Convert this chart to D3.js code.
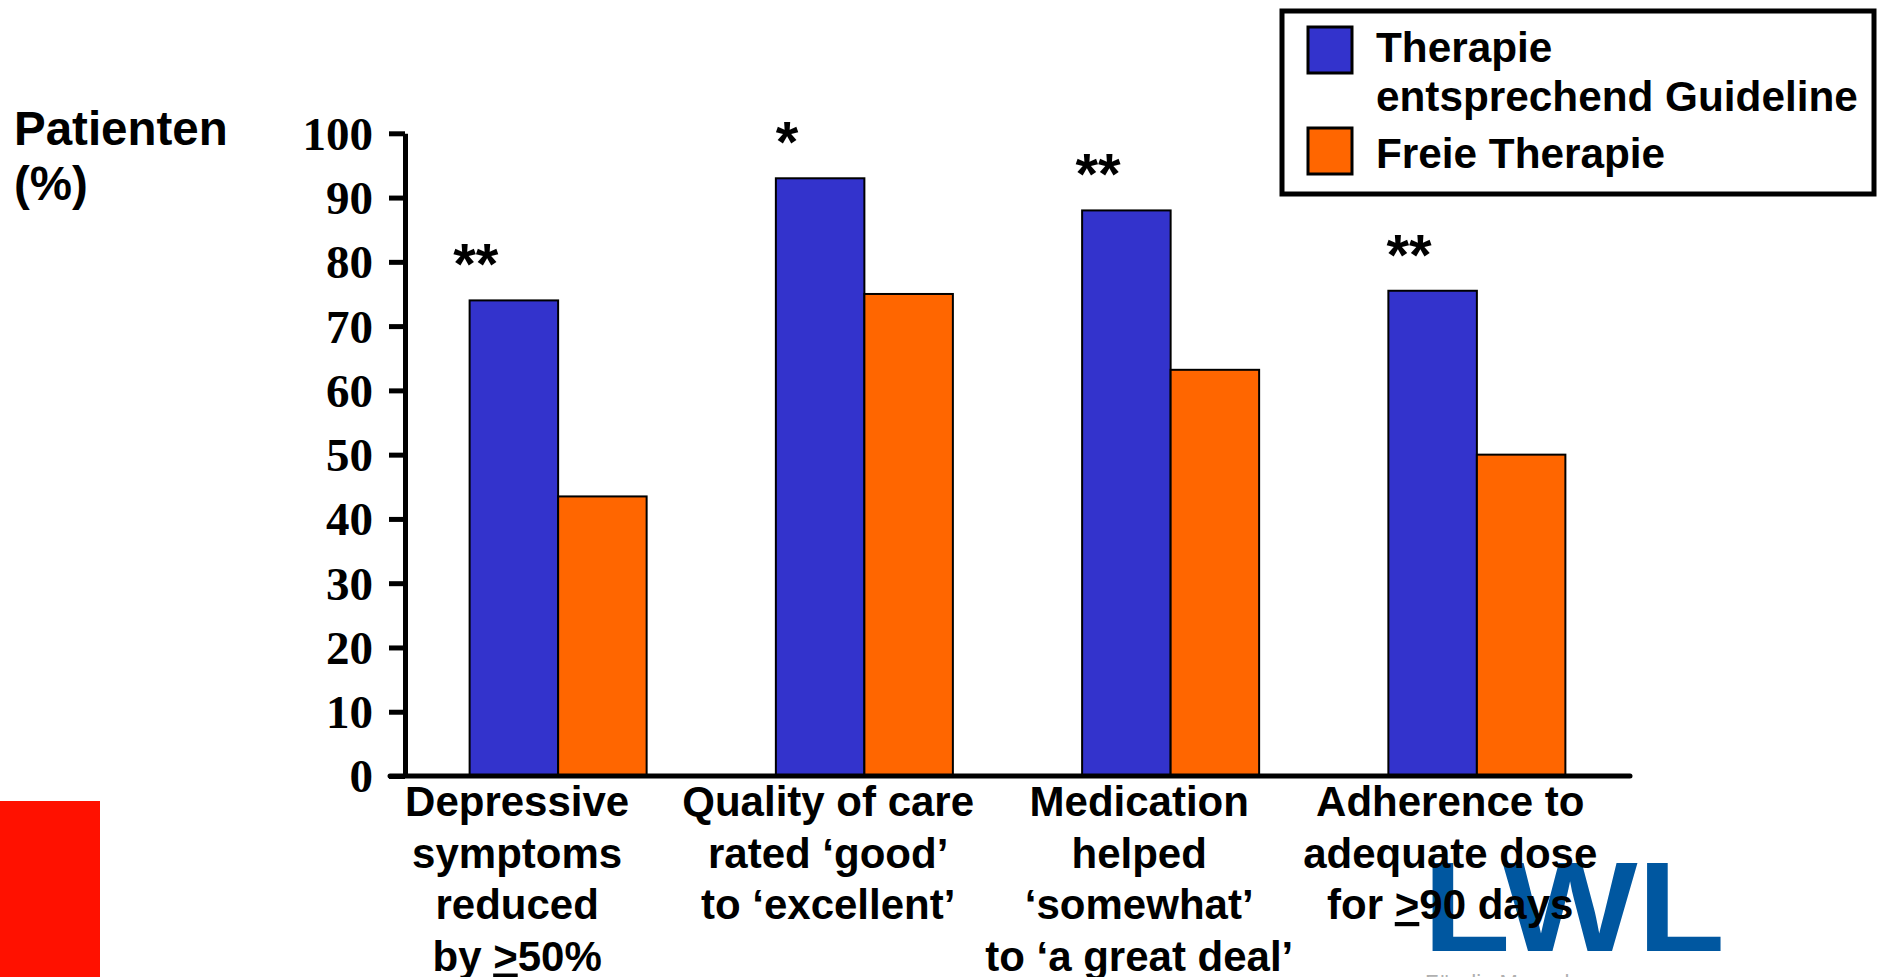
<!DOCTYPE html>
<html>
<head>
<meta charset="utf-8">
<script src="https://cdn.jsdelivr.net/npm/d3@7"></script>
<style>
  html, body { margin: 0; padding: 0; background: #fff; overflow: hidden; }
  svg { display: block; }
  .sans { font-family: "Liberation Sans", Arial, Helvetica, sans-serif; font-weight: bold; }
  .serif { font-family: "Liberation Serif", "Times New Roman", serif; font-weight: bold; }
</style>
</head>
<body>
<svg id="chart" width="1880" height="977"></svg>
<script>
// Outcome categories (each label is split into its display lines)
const categories = ["depressive", "quality", "medication", "adherence"];
const categoryLines = [
  ["Depressive", "symptoms", "reduced", "by >50%"],
  ["Quality of care", "rated ‘good’", "to ‘excellent’"],
  ["Medication", "helped", "‘somewhat’", "to ‘a great deal’"],
  ["Adherence to", "adequate dose", "for >90 days"]
];

// Share of patients (%) per group
const guidelineValues = [74, 93, 88, 75.5];
const freeValues = [43.5, 75, 63.2, 50];

// Significance markers above each group
const significance = ["**", "*", "**", "**"];

// Series names
const seriesNames = ["Therapie\nentsprechend Guideline", "Freie Therapie"];

// Y axis ticks
const yTicks = [0, 10, 20, 30, 40, 50, 60, 70, 80, 90, 100];

const colors = ["#3333CC", "#FF6600"];

const svg = d3.select("#chart");

const x = d3.scaleBand().domain(categories).range([405, 1630]).padding(0);
const y = d3.scaleLinear().domain([0, 100]).range([776, 133.3]);

const barW = x.bandwidth() * 0.289;
// labels and markers sit a little left of each bar pair, less so further right
const textShift = i => -41 + 4.8 * i;

// Red corner block
svg.append("rect").attr("x", 0).attr("y", 801).attr("width", 100).attr("height", 176)
  .attr("fill", "#FF1100");

// Bars
const groups = svg.append("g").selectAll("g").data(categories).join("g")
  .attr("transform", d => `translate(${x(d) + x.bandwidth() / 2},0)`);

groups.append("rect")
  .attr("x", -barW)
  .attr("y", (d, i) => y(guidelineValues[i]))
  .attr("width", barW)
  .attr("height", (d, i) => y(0) - y(guidelineValues[i]))
  .attr("fill", colors[0]).attr("stroke", "#000").attr("stroke-width", 2);

groups.append("rect")
  .attr("x", 0)
  .attr("y", (d, i) => y(freeValues[i]))
  .attr("width", barW)
  .attr("height", (d, i) => y(0) - y(freeValues[i]))
  .attr("fill", colors[1]).attr("stroke", "#000").attr("stroke-width", 2);

// Significance asterisks
groups.append("text")
  .attr("class", "sans")
  .attr("x", (d, i) => -barW / 2 + textShift(i) + 3)
  .attr("y", (d, i) => y(guidelineValues[i]) - 16)
  .attr("text-anchor", "middle")
  .attr("font-size", 58)
  .text((d, i) => significance[i]);

// Y axis
const yAxis = d3.axisLeft(y).tickValues(yTicks).tickSize(16).tickSizeOuter(0).tickPadding(16);
const yg = svg.append("g").attr("transform", "translate(405,0)").call(yAxis);
yg.select(".domain").attr("stroke", "#000").attr("stroke-width", 5);
yg.selectAll(".tick line").attr("stroke", "#000").attr("stroke-width", 5);
yg.selectAll(".tick text").attr("class", "serif").attr("font-size", 47)
  .attr("fill", "#000").attr("dy", "0.34em");

// X axis baseline
svg.append("line")
  .attr("x1", x.range()[0] - 15).attr("x2", x.range()[1])
  .attr("y1", y(0)).attr("y2", y(0))
  .attr("stroke", "#000").attr("stroke-width", 5).attr("stroke-linecap", "round");

// LWL logo
svg.append("text")
  .attr("class", "sans")
  .attr("x", 1423).attr("y", 951)
  .attr("font-size", 128)
  .attr("textLength", 302).attr("lengthAdjust", "spacingAndGlyphs")
  .attr("fill", "#0057A0")
  .text("LWL");
svg.append("text")
  .attr("x", 1425).attr("y", 990)
  .attr("font-family", "Liberation Sans, Arial, sans-serif")
  .attr("font-size", 22).attr("fill", "#b0b0b0")
  .text("Für die Menschen.");

// Category labels (a '>' is drawn underlined, meaning ≥)
const labels = svg.append("g").selectAll("text").data(categories).join("text")
  .attr("class", "sans")
  .attr("font-size", 42)
  .attr("text-anchor", "middle")
  .attr("fill", "#000");

labels.each(function (d, i) {
  const t = d3.select(this);
  const cx = x(d) + x.bandwidth() / 2 + textShift(i);
  categoryLines[i].forEach((line, j) => {
    const ln = t.append("tspan").attr("x", cx).attr("y", 816 + j * 51.5);
    const parts = line.split(">");
    parts.forEach((p, k) => {
      if (k > 0) ln.append("tspan").style("text-decoration", "underline").text(">");
      if (p.length) ln.append("tspan").text(p);
    });
  });
});

// Y axis title
const yTitle = svg.append("text").attr("class", "sans").attr("font-size", 47.5).attr("fill", "#000");
yTitle.append("tspan").attr("x", 14).attr("y", 145).text("Patienten");
yTitle.append("tspan").attr("x", 14).attr("y", 200).text("(%)");

// Legend
const legend = svg.append("g");
legend.append("rect").attr("x", 1282).attr("y", 11).attr("width", 592).attr("height", 183)
  .attr("fill", "#fff").attr("stroke", "#000").attr("stroke-width", 5);
const swatchY = [27, 128];
const textY = [[62, 111], [168]];
seriesNames.forEach((name, i) => {
  legend.append("rect").attr("x", 1308).attr("y", swatchY[i]).attr("width", 44).attr("height", 46)
    .attr("fill", colors[i]).attr("stroke", "#000").attr("stroke-width", 3);
  const t = legend.append("text").attr("class", "sans").attr("font-size", 42.3).attr("fill", "#000");
  name.split("\n").forEach((ln, j) => {
    t.append("tspan").attr("x", 1376).attr("y", textY[i][j]).text(ln);
  });
});
</script>
</body>
</html>
